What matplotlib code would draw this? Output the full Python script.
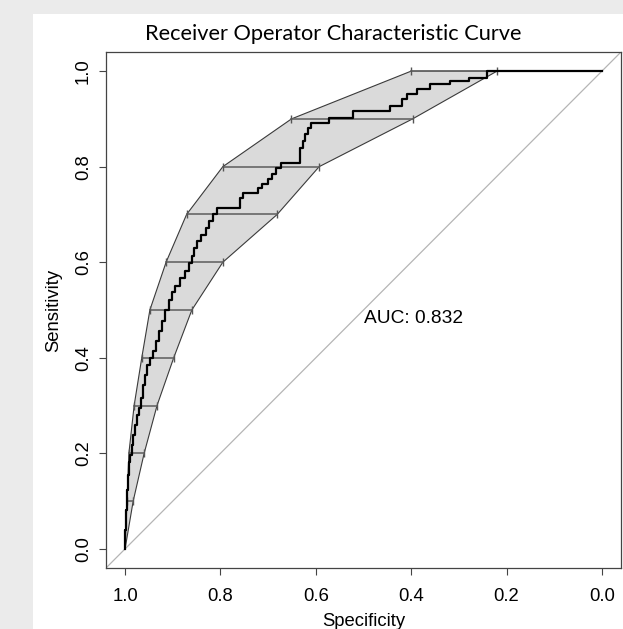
import matplotlib
matplotlib.use('Agg')
from matplotlib import pyplot as plt
from matplotlib.patches import Rectangle

# ROC curve corners (specificity, sensitivity)
roc_spec = [1.000, 0.998, 0.996, 0.994, 0.992, 0.990, 0.985, 0.983, 0.979, 0.975,
            0.971, 0.967, 0.962, 0.958, 0.954, 0.948, 0.942, 0.935, 0.929, 0.923,
            0.916, 0.908, 0.902, 0.896, 0.885, 0.875, 0.866, 0.860, 0.856, 0.850,
            0.841, 0.831, 0.823, 0.816, 0.808, 0.800, 0.758, 0.752, 0.722, 0.712,
            0.701, 0.691, 0.683, 0.674, 0.658, 0.633, 0.626, 0.622, 0.616, 0.610,
            0.605, 0.572, 0.522, 0.497, 0.445, 0.420, 0.409, 0.388, 0.361, 0.319,
            0.278, 0.242, 0.000]
roc_sens = [0.000, 0.040, 0.081, 0.123, 0.154, 0.182, 0.196, 0.217, 0.238, 0.259,
            0.280, 0.294, 0.315, 0.342, 0.363, 0.384, 0.399, 0.415, 0.436, 0.457,
            0.478, 0.499, 0.520, 0.537, 0.551, 0.566, 0.582, 0.599, 0.614, 0.630,
            0.645, 0.658, 0.672, 0.687, 0.701, 0.714, 0.714, 0.735, 0.745, 0.756,
            0.764, 0.775, 0.785, 0.797, 0.808, 0.808, 0.839, 0.854, 0.868, 0.881,
            0.891, 0.891, 0.902, 0.916, 0.916, 0.927, 0.942, 0.952, 0.962, 0.973,
            0.979, 0.985, 1.000]

# confidence interval of specificity at fixed sensitivities
ci_sens = [0.0, 0.1, 0.2, 0.3, 0.4, 0.5, 0.6, 0.7, 0.8, 0.9, 1.0]
ci_sp_low = [1.0, 0.983, 0.960, 0.933, 0.898, 0.860, 0.795, 0.681, 0.593, 0.397, 0.220]
ci_sp_high = [1.0, 0.996, 0.992, 0.981, 0.965, 0.948, 0.914, 0.871, 0.795, 0.651, 0.400]

auc_value = 0.832
tick_vals = [1.0, 0.8, 0.6, 0.4, 0.2, 0.0]

W, H = 623, 629
fig = plt.figure(figsize=(W / 100, H / 100), dpi=100, facecolor='#ebebeb')
fig.patches.append(Rectangle((33 / W, 0), 1 - 33 / W, 1 - 14 / H, transform=fig.transFigure,
                             facecolor='white', edgecolor='none', zorder=-5))

ax = fig.add_axes([106 / W, 1 - 568 / H, (621 - 106) / W, (568 - 52) / H])
ax.set_facecolor('white')

# band
poly_x = ci_sp_high + ci_sp_low[::-1]
poly_y = ci_sens + ci_sens[::-1]
ax.fill(poly_x, poly_y, facecolor='#dadada', edgecolor='#3a3a3a', linewidth=0.8, zorder=1)

# bars
for s, lo, hi in zip(ci_sens[1:], ci_sp_low[1:], ci_sp_high[1:]):
    ax.plot([hi, lo], [s, s], color='#666666', lw=1.2, zorder=2)
    ax.plot([hi, lo], [s, s], ls='none', marker='|', ms=6, mew=1.0, color='#555555', zorder=2)

# diagonal
ax.axline((1, 0), (0, 1), color='#b5b5b5', lw=0.9, zorder=1)

ax.plot(roc_spec, roc_sens, drawstyle='steps-pre', color='black', lw=1.6, zorder=3)

ax.text(0.5, 0.5, 'AUC: %.3f' % auc_value, ha='left', va='top', fontsize=13.8,
        family='Liberation Sans', zorder=4)

ax.set_xlim(1.04, -0.04)
ax.set_ylim(-0.04, 1.04)
ax.set_xticks(tick_vals)
ax.set_xticklabels(['%.1f' % v for v in tick_vals], family='Liberation Sans', fontsize=13.3)
ax.set_yticks(tick_vals)
ax.set_yticklabels(['%.1f' % v for v in tick_vals], family='Liberation Sans', fontsize=13.3,
                   rotation=90, va='center')
ax.tick_params(direction='out', length=5, width=0.8, color='#444444')
ax.tick_params(axis='x', pad=9.5)
ax.tick_params(axis='y', pad=5)
for sp in ax.spines.values():
    sp.set_color('#444444')
    sp.set_linewidth(0.9)

ax.set_xlabel('Specificity', family='Liberation Sans', fontsize=13.3, labelpad=5.5)
ax.set_ylabel('Sensitivity', family='Liberation Sans', fontsize=13.3, labelpad=9)

fig.text(333 / W, 1 - 34 / H, 'Receiver Operator Characteristic Curve', ha='center', va='center',
         fontsize=15.7, family=['Lato', 'DejaVu Sans'])

fig.savefig('out.png', dpi=100, facecolor=fig.get_facecolor())
